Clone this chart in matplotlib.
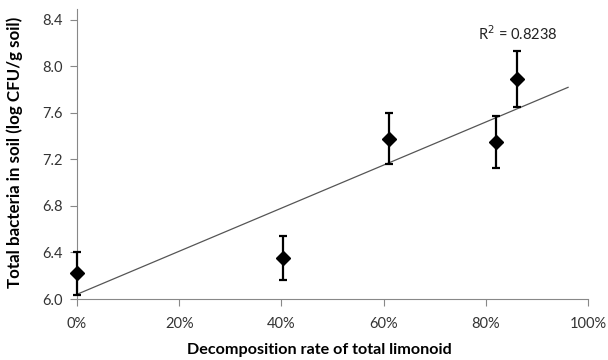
import numpy as np
import matplotlib
matplotlib.use('Agg')
import matplotlib.pyplot as plt
from matplotlib.ticker import FuncFormatter

plt.rcParams['font.family'] = ['Lato', 'DejaVu Sans']

# decomposition rate of total limonoid (fraction)
decomp = [0.0, 0.403, 0.611, 0.820, 0.861]
# total bacteria in soil (log CFU/g soil)
bacteria = [6.22, 6.355, 7.376, 7.350, 7.888]
bacteria_err = [0.185, 0.19, 0.22, 0.22, 0.24]
r2_label = 'R$^2$ = 0.8238'

fig = plt.figure(figsize=(6.08, 3.6), dpi=100)
ax = fig.add_axes([0.1266, 0.1694, 0.8405, 0.805])

# linear trendline, forecast forward by 0.1 like excel
slope, icpt = np.polyfit(decomp, bacteria, 1)
xs = np.array([0.0, max(decomp) + 0.1])
ax.plot(xs, slope * xs + icpt, color='#555555', lw=0.9, zorder=2)

eb = ax.errorbar(decomp, bacteria, yerr=bacteria_err, fmt='D', color='black',
                 markersize=7.5, elinewidth=1.6, capsize=3, capthick=1.6, zorder=3)
for art in eb.lines[1] + eb.lines[2] + (eb.lines[0],):
    art.set_clip_on(False)

ax.text(0.863, 8.283, r2_label, ha='center', va='center', fontsize=10.5, color='#222222')

ax.set_xlim(0, 1.0)
ax.set_ylim(6.0, 8.49)
ax.set_xticks([0, 0.2, 0.4, 0.6, 0.8, 1.0])
ax.set_yticks([6.0, 6.4, 6.8, 7.2, 7.6, 8.0, 8.4])
ax.xaxis.set_major_formatter(FuncFormatter(lambda v, p: f'{v*100:.0f}%'))
ax.yaxis.set_major_formatter(FuncFormatter(lambda v, p: f'{v:.1f}'))
ax.tick_params(axis='both', direction='out', length=5, width=0.8, color='#888888',
               labelsize=10.5, labelcolor='#333333')
ax.tick_params(axis='x', pad=8)
ax.tick_params(axis='y', pad=5)

for s in ['top', 'right']:
    ax.spines[s].set_visible(False)
for s in ['left', 'bottom']:
    ax.spines[s].set_color('#888888')
    ax.spines[s].set_linewidth(0.8)
ax.spines['left'].set_bounds(6.0, 8.49)

xl = fig.text(319 / 608, 1 - 350 / 360, 'Decomposition rate of total limonoid',
              ha='center', va='center', fontsize=10.5, fontweight='bold')
yl = fig.text(15 / 608, 1 - 152 / 360, 'Total bacteria in soil (log CFU/g soil)',
              ha='center', va='center', rotation=90, fontsize=10.5, fontweight='bold')

# scale the axis titles so their length matches the reference
rend = fig.canvas.get_renderer()
w = xl.get_window_extent(rend).width
xl.set_fontsize(10.5 * 266 / w)
h = yl.get_window_extent(rend).height
yl.set_fontsize(10.5 * 272 / h)

fig.savefig('out.png', dpi=100)
